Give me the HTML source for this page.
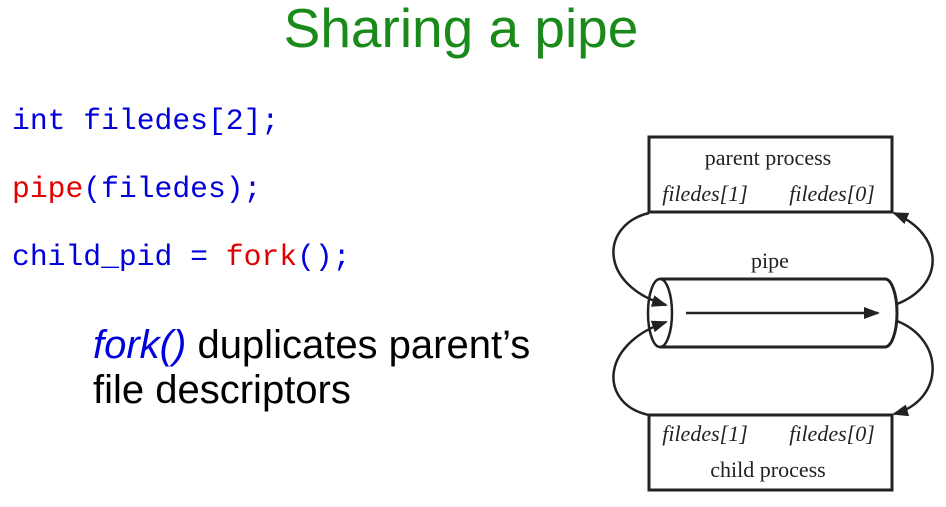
<!DOCTYPE html>
<html><head><style>
body{margin:0;width:946px;height:507px;background:#fff;position:relative;overflow:hidden;font-family:"Liberation Sans",sans-serif}
.t{position:absolute;white-space:pre}
.code{font-family:"Liberation Mono",monospace;font-size:29.7px;color:#0000dd}
.r{color:#e00000}
</style></head><body>
<div class="t" style="left:0;width:922px;text-align:center;top:-4px;font-size:55px;color:#1a8a1a">Sharing a pipe</div>
<div class="t code" style="left:12px;top:104px">int filedes[2];</div>
<div class="t code" style="left:12px;top:172px"><span class="r">pipe</span>(filedes);</div>
<div class="t code" style="left:12px;top:240px">child_pid = <span class="r">fork</span>();</div>
<div class="t" style="left:93px;top:323px;font-size:40px;line-height:45px;color:#000"><i style="color:#0000dd">fork()</i> duplicates parent’s
file descriptors</div>
<svg width="946" height="507" style="position:absolute;left:0;top:0" font-family="Liberation Serif,serif">
<defs><marker id="a" markerWidth="16" markerHeight="12" refX="14" refY="6" orient="auto" markerUnits="userSpaceOnUse"><path d="M0,0 L16,6 L0,12 z" fill="#222"/></marker></defs>
<g stroke="#222" fill="none" stroke-width="2.5">
<rect x="649" y="137" width="243" height="75" stroke-width="3"/>
<rect x="649" y="415" width="243" height="75" stroke-width="3"/>
<path d="M660,279 L885,279 A12,34 0 0 1 885,347 L660,347" stroke-width="3"/>
<ellipse cx="660" cy="313" rx="12" ry="34"/>
<path d="M686,313 L878,313" marker-end="url(#a)"/>
<path d="M649,213 C600,225 598,285 666,305" marker-end="url(#a)"/>
<path d="M649,415 C600,405 598,345 666,322" marker-end="url(#a)"/>
<path d="M897,304 C945,285 945,235 894,213" marker-end="url(#a)"/>
<path d="M897,321 C945,340 945,400 894,414" marker-end="url(#a)"/>
</g>
<g fill="#222" font-size="22" text-anchor="middle">
<text x="768" y="165">parent process</text>
<text x="768" y="477">child process</text>
<text x="770" y="268">pipe</text>
<g font-style="italic"><text x="705" y="201">filedes[1]</text><text x="832" y="201">filedes[0]</text>
<text x="705" y="441">filedes[1]</text><text x="832" y="441">filedes[0]</text></g>
</g>
</svg>
</body></html>
